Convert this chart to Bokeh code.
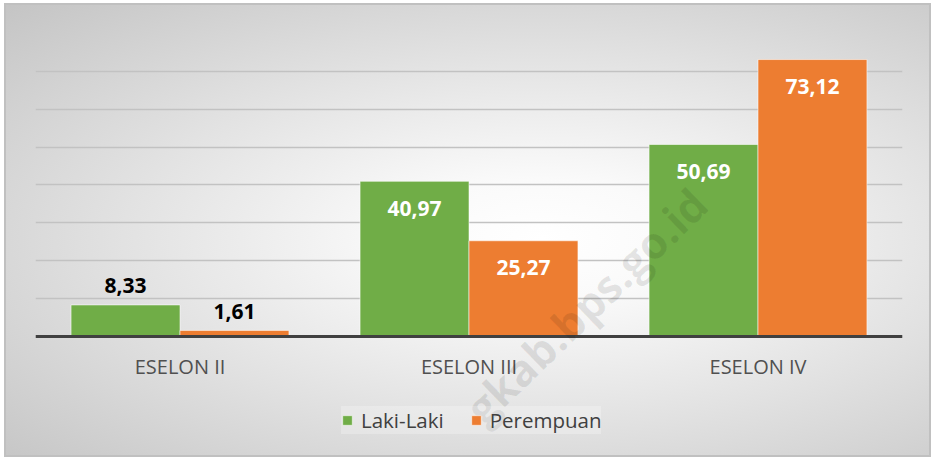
from bokeh.plotting import figure
from bokeh.models import ColumnDataSource, FactorRange, Range1d, Legend, LegendItem, Label, FixedTicker
from bokeh.transform import dodge
from bokeh.core.properties import value
from bokeh.embed import file_html
from bokeh.resources import INLINE

categories = ["ESELON II", "ESELON III", "ESELON IV"]
laki = [8.33, 40.97, 50.69]
perempuan = [1.61, 25.27, 73.12]
series_names = ["Laki-Laki", "Perempuan"]
y_ticks = [0, 10, 20, 30, 40, 50, 60, 70, 80]
watermark = "gkab.bps.go.id"

GREEN = "#70AD47"
ORANGE = "#ED7D31"
FONT = "Open Sans"


def fmt(v):
    return f"{v:.2f}".replace(".", ",")


src = ColumnDataSource(dict(cat=categories, laki=laki, perempuan=perempuan))

W, H = 927, 454
p = figure(
    x_range=FactorRange(factors=categories, range_padding=0),
    y_range=Range1d(-30.1, 80),
    width=W, height=H,
    output_backend="svg", toolbar_location=None,
    min_border_left=31, min_border_right=29, min_border_top=30, min_border_bottom=7,
)
p.background_fill_color = None
p.border_fill_color = None
p.outline_line_color = None
p.styles = {
    "margin-left": "4px",
    "margin-top": "3px",
    "background": "radial-gradient(ellipse farthest-corner at 58% 52%, #ffffff 0%, #fafafa 18%, #e2e2e2 55%, #c4c4c4 100%)",
    "outline": "2px solid #c0c0c0",
    "outline-offset": "-2px",
}

p.yaxis.visible = False
p.xgrid.visible = False
p.ygrid.ticker = FixedTicker(ticks=y_ticks)
p.ygrid.grid_line_color = "#c2c2c2"
p.ygrid.grid_line_width = 1.6

off = 0.1885
bw = 0.377
g = p.vbar(x=dodge("cat", -off, range=p.x_range), top="laki", width=bw, source=src,
           fill_color=GREEN, line_color="white", line_alpha=0.55, line_width=1)
o = p.vbar(x=dodge("cat", off, range=p.x_range), top="perempuan", width=bw, source=src,
           fill_color=ORANGE, line_color="white", line_alpha=0.55, line_width=1)

p.xaxis.fixed_location = 0
p.xaxis.axis_line_width = 3
p.xaxis.axis_line_color = "#404040"
p.xaxis.major_tick_line_color = None
p.xaxis.minor_tick_line_color = None
p.xaxis.major_label_text_font = FONT
p.xaxis.major_label_text_font_size = "20px"
p.xaxis.major_label_text_color = "#505050"
p.xaxis.major_label_standoff = 11


def label_sources(vals):
    out = dict(cat=[], v=[], t=[])
    ins = dict(cat=[], v=[], t=[])
    for c, v in zip(categories, vals):
        d = out if v < 15 else ins
        d["cat"].append(c)
        d["v"].append(v)
        d["t"].append(fmt(v))
    return ColumnDataSource(out), ColumnDataSource(ins)


for vals, dx in ((laki, -off), (perempuan, off)):
    s_out, s_in = label_sources(vals)
    p.text(x=dodge("cat", dx, range=p.x_range), y="v", text="t", source=s_out,
           text_font=value(FONT), text_font_size="21px", text_font_style="bold",
           text_color="black", text_align="center", text_baseline="middle", y_offset=-19)
    p.text(x=dodge("cat", dx, range=p.x_range), y="v", text="t", source=s_in,
           text_font=value(FONT), text_font_size="21px", text_font_style="bold",
           text_color="white", text_align="center", text_baseline="middle", y_offset=27)

wm = Label(x=458, y=14, x_units="screen", y_units="screen", text=watermark,
           angle=44, angle_units="deg", text_font=FONT, text_font_size="44px",
           text_font_style="bold", text_color="black", text_alpha=0.09)
p.add_layout(wm)

legend = Legend(
    items=[LegendItem(label=series_names[0], renderers=[g]),
           LegendItem(label=series_names[1], renderers=[o])],
    location=(306, 16), orientation="horizontal",
    glyph_width=12, glyph_height=12, label_standoff=8, spacing=26, padding=10,
    label_text_font=FONT, label_text_font_size="20.5px", label_text_color="#404040",
    border_line_color=None, background_fill_color="white", background_fill_alpha=0.25,
)
p.add_layout(legend, "center")

open("out.html", "w").write(file_html(p, INLINE))
